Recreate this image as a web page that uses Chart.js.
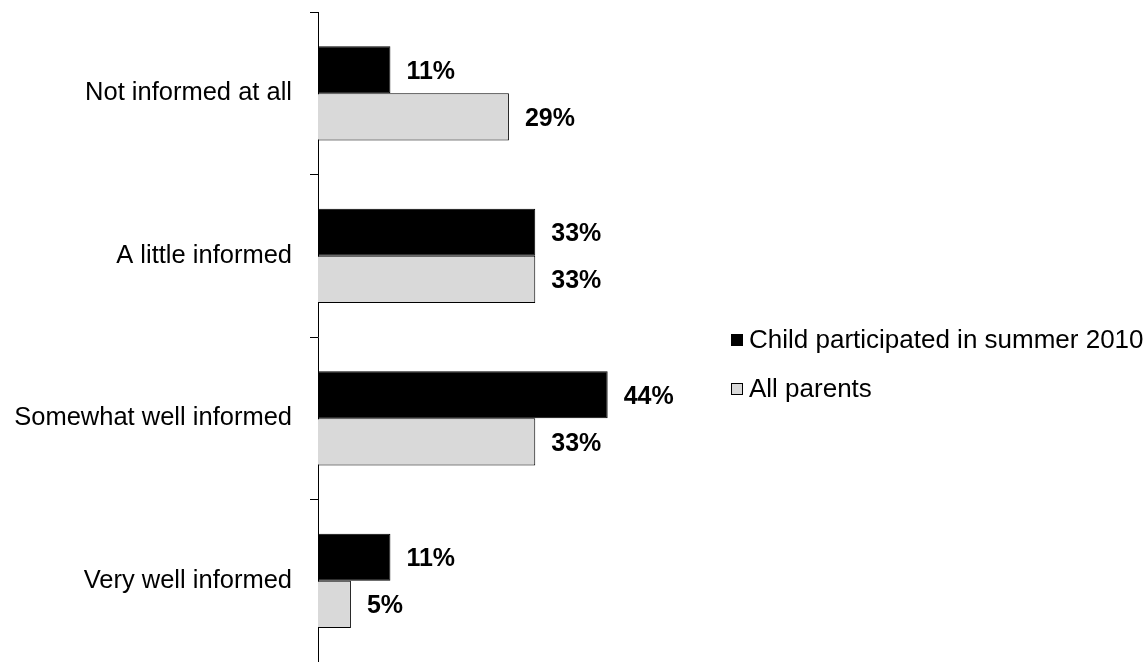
<!DOCTYPE html>
<html>
<head>
<meta charset="utf-8">
<script src="https://cdn.jsdelivr.net/npm/chart.js@4.4.1/dist/chart.umd.min.js"></script>
<style>
    html, body { margin: 0; padding: 0; background: #fff; }
    #wrap { width: 1148px; height: 662px; position: relative; }
</style>
</head>
<body>
<div id="wrap"><canvas id="myChart"></canvas></div>
<script>
// data
const categories = ["Not informed at all", "A little informed", "Somewhat well informed", "Very well informed"];
const seriesNames = ["Child participated in summer 2010", "All parents"];
const childValues = [11, 33, 44, 11];
const allParentsValues = [29, 33, 33, 5];

const FONT = "'Liberation Sans', Arial, sans-serif";

// value labels at the end of each bar
const barLabels = {
    id: 'barLabels',
    afterDatasetsDraw(chart) {
        const ctx = chart.ctx;
        ctx.save();
        ctx.font = "bold 25px " + FONT;
        ctx.fillStyle = '#000';
        ctx.textAlign = 'left';
        ctx.textBaseline = 'middle';
        chart.data.datasets.forEach(function(ds, i) {
            chart.getDatasetMeta(i).data.forEach(function(bar, j) {
                ctx.fillText(ds.data[j] + '%', bar.x + 16, bar.y + 2);
            });
        });
        ctx.restore();
    }
};

// legend to the right of the plot
const sideLegend = {
    id: 'sideLegend',
    afterDraw(chart) {
        const ctx = chart.ctx;
        const rows = [340, 389];
        ctx.save();
        ctx.font = "26px " + FONT;
        ctx.textAlign = 'left';
        ctx.textBaseline = 'middle';
        chart.data.datasets.forEach(function(ds, i) {
            ctx.fillStyle = ds.backgroundColor;
            ctx.fillRect(731, rows[i] - 6, 12, 12);
            ctx.strokeStyle = '#000';
            ctx.lineWidth = 1;
            ctx.strokeRect(731.5, rows[i] - 5.5, 11, 11);
            ctx.fillStyle = '#000';
            ctx.fillText(ds.label, 749, rows[i] + 1);
        });
        ctx.restore();
    }
};

const ctx = document.getElementById('myChart').getContext('2d');
const myChart = new Chart(ctx, {
    type: 'bar',
    data: {
        labels: categories,
        datasets: [
            {
                label: seriesNames[0],
                data: childValues,
                backgroundColor: '#000000',
                borderColor: '#000000',
                borderWidth: 1
            },
            {
                label: seriesNames[1],
                data: allParentsValues,
                backgroundColor: '#d9d9d9',
                borderColor: '#000000',
                borderWidth: 1
            }
        ]
    },
    options: {
        indexAxis: 'y',
        responsive: true,
        maintainAspectRatio: false,
        animation: false,
        categoryPercentage: 0.58,
        barPercentage: 1.0,
        layout: {
            padding: { top: 12, right: 435, bottom: 0, left: 0 }
        },
        plugins: {
            legend: { display: false },
            tooltip: { enabled: false }
        },
        scales: {
            x: {
                display: false,
                min: 0,
                max: 60
            },
            y: {
                afterFit: function(scale) {
                    scale.width = 318;
                    scale.paddingTop = 0;
                    scale.paddingBottom = 0;
                },
                grid: {
                    drawOnChartArea: false,
                    drawTicks: true,
                    tickLength: 8,
                    color: '#000'
                },
                border: { display: true, color: '#000', width: 1 },
                ticks: {
                    color: '#000',
                    padding: 18,
                    font: { family: FONT, size: 25.5 }
                }
            }
        }
    },
    plugins: [barLabels, sideLegend]
});
</script>
</body>
</html>
